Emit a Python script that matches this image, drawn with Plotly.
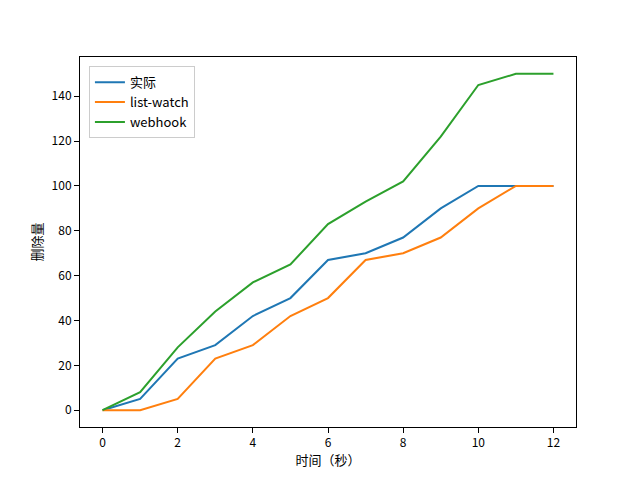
import plotly.graph_objects as go

t = list(range(13))
actual = [0, 5, 23, 29, 42, 50, 67, 70, 77, 90, 100, 100, 100]
list_watch = [0, 0, 5, 23, 29, 42, 50, 67, 70, 77, 90, 100, 100]
webhook = [0, 8, 28, 44, 57, 65, 83, 93, 102, 122, 145, 150, 150]

names = ["实际", "list-watch", "webhook"]
colors = ["#1f77b4", "#ff7f0e", "#2ca02c"]
series = [actual, list_watch, webhook]

fig = go.Figure()
for n, c, s in zip(names, colors, series):
    fig.add_trace(go.Scatter(x=t, y=s, mode="lines", name=n,
                             line=dict(color=c, width=2)))

font = "Noto Sans CJK SC, DejaVu Sans, sans-serif"
axis_common = dict(showgrid=False, zeroline=False, showline=True, linecolor="black",
                   linewidth=1, mirror=True, ticks="outside", ticklen=5, tickwidth=1,
                   tickcolor="black", tickfont=dict(size=12, color="black", family=font))
fig.update_layout(
    width=640, height=480,
    margin=dict(l=72, r=72, t=49, b=61),
    plot_bgcolor="white", paper_bgcolor="white",
    font=dict(family=font, size=12, color="black"),
    showlegend=True,
    legend=dict(x=0.018, y=0.975, xanchor="left", yanchor="top",
                bordercolor="#cccccc", borderwidth=1, bgcolor="rgba(255,255,255,0.8)",
                font=dict(size=13, family=font)),
    xaxis=dict(range=[-0.6, 12.6], tickmode="array", tickvals=[0, 2, 4, 6, 8, 10, 12],
               title=dict(text="时间（秒）", font=dict(size=13), standoff=6), **axis_common),
    yaxis=dict(range=[-7.5, 157.5], tickmode="array", tickvals=[0, 20, 40, 60, 80, 100, 120, 140],
               title=dict(text="删除量", font=dict(size=13), standoff=6), **axis_common),
)
fig.write_html("out.html")
